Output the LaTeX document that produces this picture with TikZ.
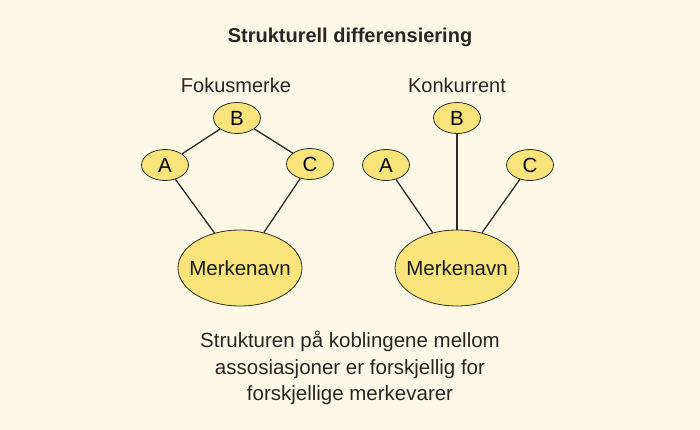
\documentclass[tikz,border=0pt]{standalone}
\usepackage{fontspec}
\setmainfont{Liberation Sans}
\usetikzlibrary{shapes.geometric}
\definecolor{bgc}{HTML}{FEF9E6}
\definecolor{fillc}{HTML}{F8E47A}
\definecolor{linec}{HTML}{2A2A2A}
\tikzset{
  small/.style={ellipse, draw=linec, line width=0.8pt, fill=fillc, minimum width=47pt, minimum height=31pt, inner sep=0pt, font=\fontsize{20.5}{22}\selectfont},
  big/.style={ellipse, draw=linec, line width=0.8pt, fill=fillc, minimum width=124pt, minimum height=76pt, inner sep=0pt,
    label={[font=\fontsize{20.5}{22}\selectfont, text=black!90]center:#1}},
  link/.style={draw=linec, line width=1.3pt},
  lbl/.style={font=\fontsize{20}{22}\selectfont, text=black!85},
}
\begin{document}
\begin{tikzpicture}[x=1pt,y=-1pt]
\fill[bgc] (0,0) rectangle (700,430);
\useasboundingbox (0,0) rectangle (700,430);
\node[font=\bfseries\fontsize{20}{22}\selectfont, text=black!85] (title) at (350,37) {Strukturell differensiering};
\node[lbl] (fokus) at (236,85) {Fokusmerke};
\node[lbl] (konk) at (457,85) {Konkurrent};
% left
\node[small] (lB) at (237,118) {B};
\node[small] (lA) at (165,165) {A};
\node[small] (lC) at (310,164) {C};
\node[big=Merkenavn] (lM) at (240,268) {};
\draw[link] (lB) -- (lA);
\draw[link] (lB) -- (lC);
\draw[link] (lA) -- (lM);
\draw[link] (lC) -- (lM);
% right
\node[small] (rB) at (457,118) {B};
\node[small] (rA) at (386,165) {A};
\node[small] (rC) at (530,165) {C};
\node[big=Merkenavn] (rM) at (457,268) {};
\draw[link] (rA) -- (rM);
\draw[link] (rB) -- (rM);
\draw[link] (rC) -- (rM);
\node[font=\fontsize{20.5}{26.5}\selectfont, text=black!85, align=center] (caption) at (350,368) {Strukturen på koblingene mellom\\assosiasjoner er forskjellig for\\forskjellige merkevarer};
\end{tikzpicture}
\end{document}
